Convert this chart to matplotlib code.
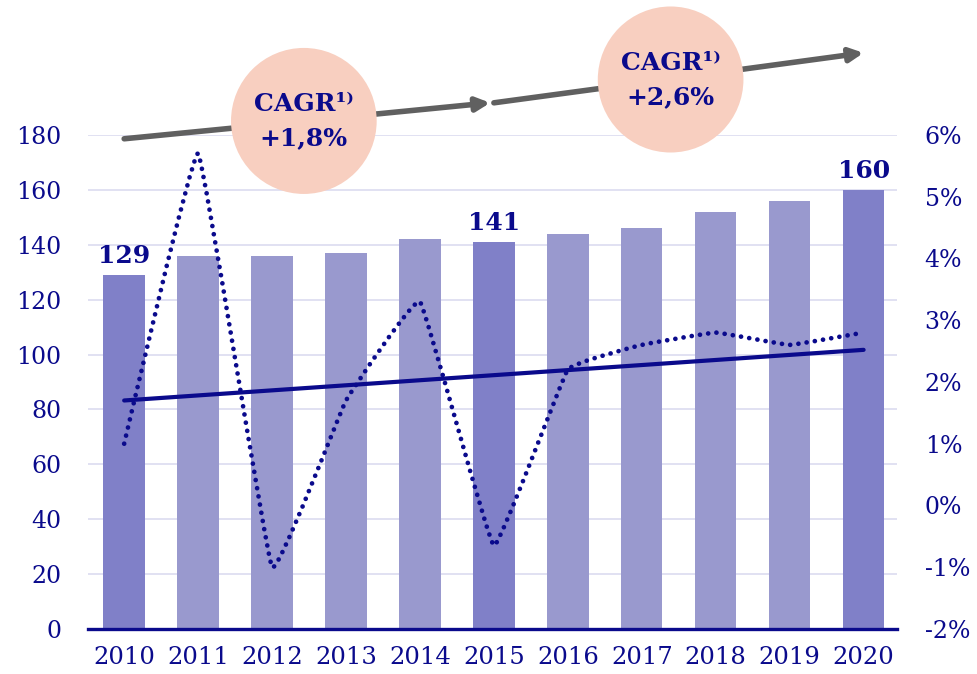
import numpy as np
import matplotlib.pyplot as plt
from matplotlib.path import Path
from matplotlib.patches import PathPatch, Ellipse

# ==========================================
# データ
# ==========================================

years = ["2010", "2011", "2012", "2013", "2014", "2015",
         "2016", "2017", "2018", "2019", "2020"]

volume = [129, 136, 136, 137, 142, 141, 144, 146, 152, 156, 160]

growth_pct = [1.0, 5.7, -1.0, 1.7, 3.3, -0.65, 2.2, 2.6, 2.8, 2.6, 2.8]

trend_pct = [1.7, 2.52]          # 2010 -> 2020 linear trend

highlight = ["2010", "2015", "2020"]
value_labels = {"2010": "129", "2015": "141", "2020": "160"}

cagr_labels = ["+1,8%", "+2,6%"]

left_ticks = [0, 20, 40, 60, 80, 100, 120, 140, 160, 180]
right_ticks = [-2, -1, 0, 1, 2, 3, 4, 5, 6]

# ==========================================
# スタイル
# ==========================================

NAVY = "#0A0A8C"
BAR_DARK = "#8080C8"
BAR_LIGHT = "#9999CE"
GRID = "#DCDCF0"
SALMON = "#F8CFC0"
ARROW = "#606060"

TENSION = 0.22   # 線の滑らかさ (1 = Catmull-Rom)

plt.rcParams["font.family"] = ["DejaVu Serif"]

fig = plt.figure(figsize=(9.77, 6.74), dpi=100)
ax = fig.add_axes([0.090, 0.0668, 0.828, 0.733])
ax2 = ax.twinx()

x = np.arange(len(years))

# ==========================================
# 棒グラフ
# ==========================================

colors = [BAR_DARK if y in highlight else BAR_LIGHT for y in years]
ax.bar(x, volume, width=0.56, color=colors, zorder=2)

for i, y in enumerate(years):
    if y in value_labels:
        ax.text(i, volume[i] + 2.5, value_labels[y], ha="center", va="bottom",
                fontsize=18, fontweight="bold", color=NAVY, zorder=5)

ax.set_xlim(-0.49, 10.45)
ax.set_ylim(0, 180)
ax.set_yticks(left_ticks)
ax.set_xticks(x)
ax.set_xticklabels(years)
ax.yaxis.grid(True, color=GRID, lw=1.2, zorder=0)
ax.set_axisbelow(True)

for s in ["top", "left", "right"]:
    ax.spines[s].set_visible(False)
ax.spines["bottom"].set_color(NAVY)
ax.spines["bottom"].set_linewidth(2.4)
ax.spines["bottom"].set_zorder(6)

ax.tick_params(axis="y", length=0, pad=19, labelsize=17, labelcolor=NAVY)
ax.tick_params(axis="x", length=0, pad=12, labelsize=17.5, labelcolor=NAVY)

# ==========================================
# 成長率 (右軸)
# ==========================================

ax2.set_ylim(-2, 6)
ax2.set_yticks(right_ticks)
ax2.set_yticklabels([f"{t}%" for t in right_ticks])
ax2.tick_params(axis="y", length=0, pad=20, labelsize=17, labelcolor=NAVY)
for s in ax2.spines.values():
    s.set_visible(False)

# smoothed line through the growth values
pts = np.column_stack([x, growth_pct]).astype(float)
verts = [pts[0]]
codes = [Path.MOVETO]
for i in range(len(pts) - 1):
    p0 = pts[i - 1] if i > 0 else pts[i]
    p1 = pts[i]
    p2 = pts[i + 1]
    p3 = pts[i + 2] if i + 2 < len(pts) else pts[i + 1]
    c1 = p1 + (p2 - p0) / 6 * TENSION
    c2 = p2 - (p3 - p1) / 6 * TENSION
    verts += [c1, c2, p2]
    codes += [Path.CURVE4] * 3
curve = PathPatch(Path(verts, codes), facecolor="none", edgecolor=NAVY,
                  lw=3.4, linestyle=(0, (0.01, 1.75)), capstyle="round",
                  zorder=4)
ax2.add_patch(curve)

ax2.plot([x[0], x[-1]], trend_pct, color=NAVY, lw=3, solid_capstyle="round",
         zorder=4)

# ==========================================
# CAGR 矢印と円
# ==========================================

arrowprops = dict(arrowstyle="-|>,head_length=0.8,head_width=0.4",
                  color=ARROW, lw=4, shrinkA=0, shrinkB=0)
ax.annotate("", xy=(4.95, 191.7), xytext=(0, 178.6),
            arrowprops=arrowprops, annotation_clip=False, zorder=3)
ax.annotate("", xy=(10.0, 209.9), xytext=(5.0, 191.7),
            arrowprops=arrowprops, annotation_clip=False, zorder=3)

circles = [(2.43, 185.1, 1.97, 53.2), (7.39, 200.2, 1.97, 53.2)]
for (cx, cy, w, h), lab in zip(circles, cagr_labels):
    ax.add_patch(Ellipse((cx, cy), w, h, facecolor=SALMON, edgecolor="none",
                         clip_on=False, zorder=7))
    ax.text(cx, cy + 6, "CAGR\u00b9\u207e", ha="center", va="center",
            fontsize=18, fontweight="bold", color=NAVY, zorder=8)
    ax.text(cx, cy - 6.3, lab, ha="center", va="center",
            fontsize=18, fontweight="bold", color=NAVY, zorder=8)

fig.savefig("out.png", dpi=100)
